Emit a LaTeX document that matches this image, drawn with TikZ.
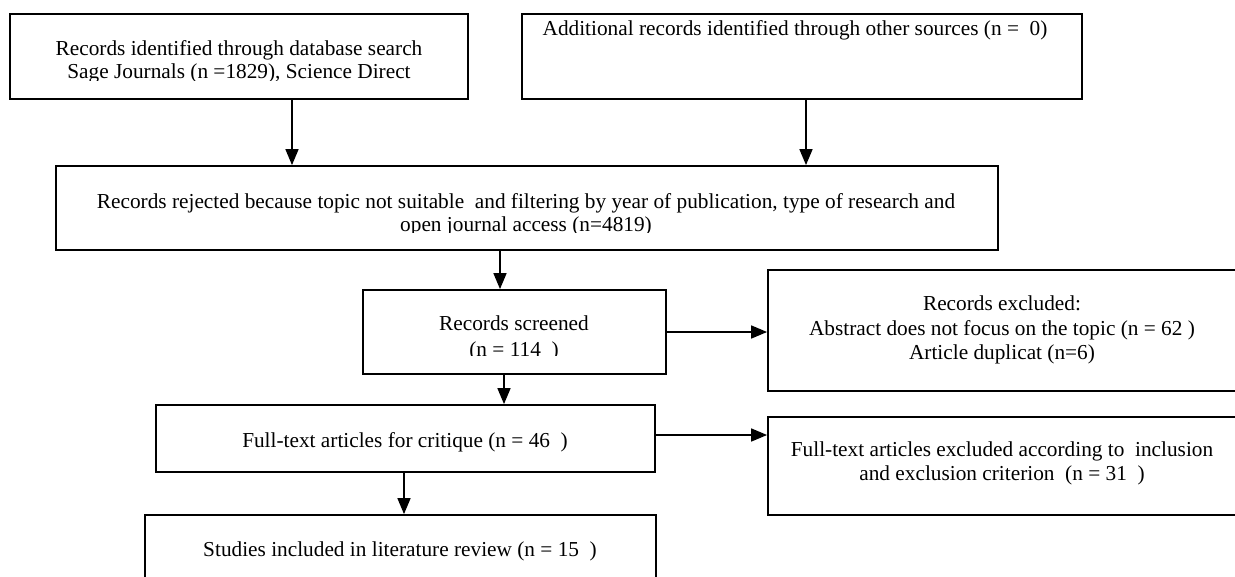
\documentclass[tikz,border=0pt]{standalone}
\usepackage{fontspec}
\setmainfont{Liberation Serif}
\usetikzlibrary{arrows.meta}
\begin{document}
\begin{tikzpicture}[x=1pt,y=-1pt,
  box/.style={draw,line width=1.8pt,inner sep=0pt},
  txt/.style={anchor=base,inner sep=0pt,font=\fontsize{21.3}{25}\selectfont},
  arr/.style={-{Triangle[length=16pt,width=13pt]},line width=1.6pt}]
\useasboundingbox (0,0) rectangle (1235,576);
\clip (0,0) rectangle (1235,576);
% boxes
\node[box,minimum width=458pt,minimum height=85pt] (b1) at (239,56.5) {};
\node[box,minimum width=560pt,minimum height=85pt] (b2) at (802,56.5) {};
\node[box,minimum width=942pt,minimum height=84pt] (b3) at (527,208) {};
\node[box,minimum width=303pt,minimum height=84pt] (b4) at (514.5,332) {};
\node[box,minimum width=469pt,minimum height=121pt] (b5) at (1002.5,330.5) {};
\node[box,minimum width=499pt,minimum height=67pt] (b6) at (405.5,438.5) {};
\node[box,minimum width=469pt,minimum height=98pt] (b7) at (1002.5,466) {};
\node[box,minimum width=511pt,minimum height=75pt] (b8) at (400.5,552.5) {};
% texts
\node[txt] (t1a) at (239,55.5) {Records identified through database search};
\begin{scope}
\clip (0,0) rectangle (1235,80);
\node[txt] (t1b) at (239,78.5) {Sage Journals (n =1829), Science Direct};
\end{scope}
\node[txt] (t2) at (795,35) {Additional records identified through other sources (n = \ 0)};
\node[txt] (t3a) at (526,208) {Records rejected because topic not suitable \ and filtering by year of publication, type of research and};
\begin{scope}
\clip (0,0) rectangle (1235,232);
\node[txt] (t3b) at (526,231.5) {open journal access (n=4819)};
\end{scope}
\node[txt] (t4a) at (514,330) {Records screened};
\begin{scope}
\clip (0,0) rectangle (1235,355.5);
\node[txt] (t4b) at (514,356) {(n = 114 \ )};
\end{scope}
\node[txt] (t5a) at (1002,310) {Records excluded:};
\node[txt] (t5b) at (1002,335) {Abstract does not focus on the topic (n = 62 )};
\node[txt] (t5c) at (1002,359) {Article duplicat (n=6)};
\node[txt] (t6) at (405,447) {Full-text articles for critique (n = 46 \ )};
\node[txt] (t7a) at (1002,456.7) {Full-text articles excluded according to \ inclusion};
\node[txt] (t7b) at (1002,480.7) {and exclusion criterion \ (n = 31 \ )};
\node[txt] (t8) at (400,556.7) {Studies included in literature review (n = 15 \ )};
% connector positions
\coordinate (x1) at (292,0);
\coordinate (x2) at (806,0);
\coordinate (x3) at (500,0);
\coordinate (x5) at (504,0);
\coordinate (x7) at (404,0);
\coordinate (y6) at (0,435);
% connectors
\draw[arr] (b1.south -| x1) -- (b3.north -| x1);
\draw[arr] (b2.south -| x2) -- (b3.north -| x2);
\draw[arr] (b3.south -| x3) -- (b4.north -| x3);
\draw[arr] (b4.east) -- (b4.east -| b5.west);
\draw[arr] (b4.south -| x5) -- (b6.north -| x5);
\draw[arr] (b6.east |- y6) -- (b7.west |- y6);
\draw[arr] (b6.south -| x7) -- (b8.north -| x7);
\end{tikzpicture}
\end{document}
